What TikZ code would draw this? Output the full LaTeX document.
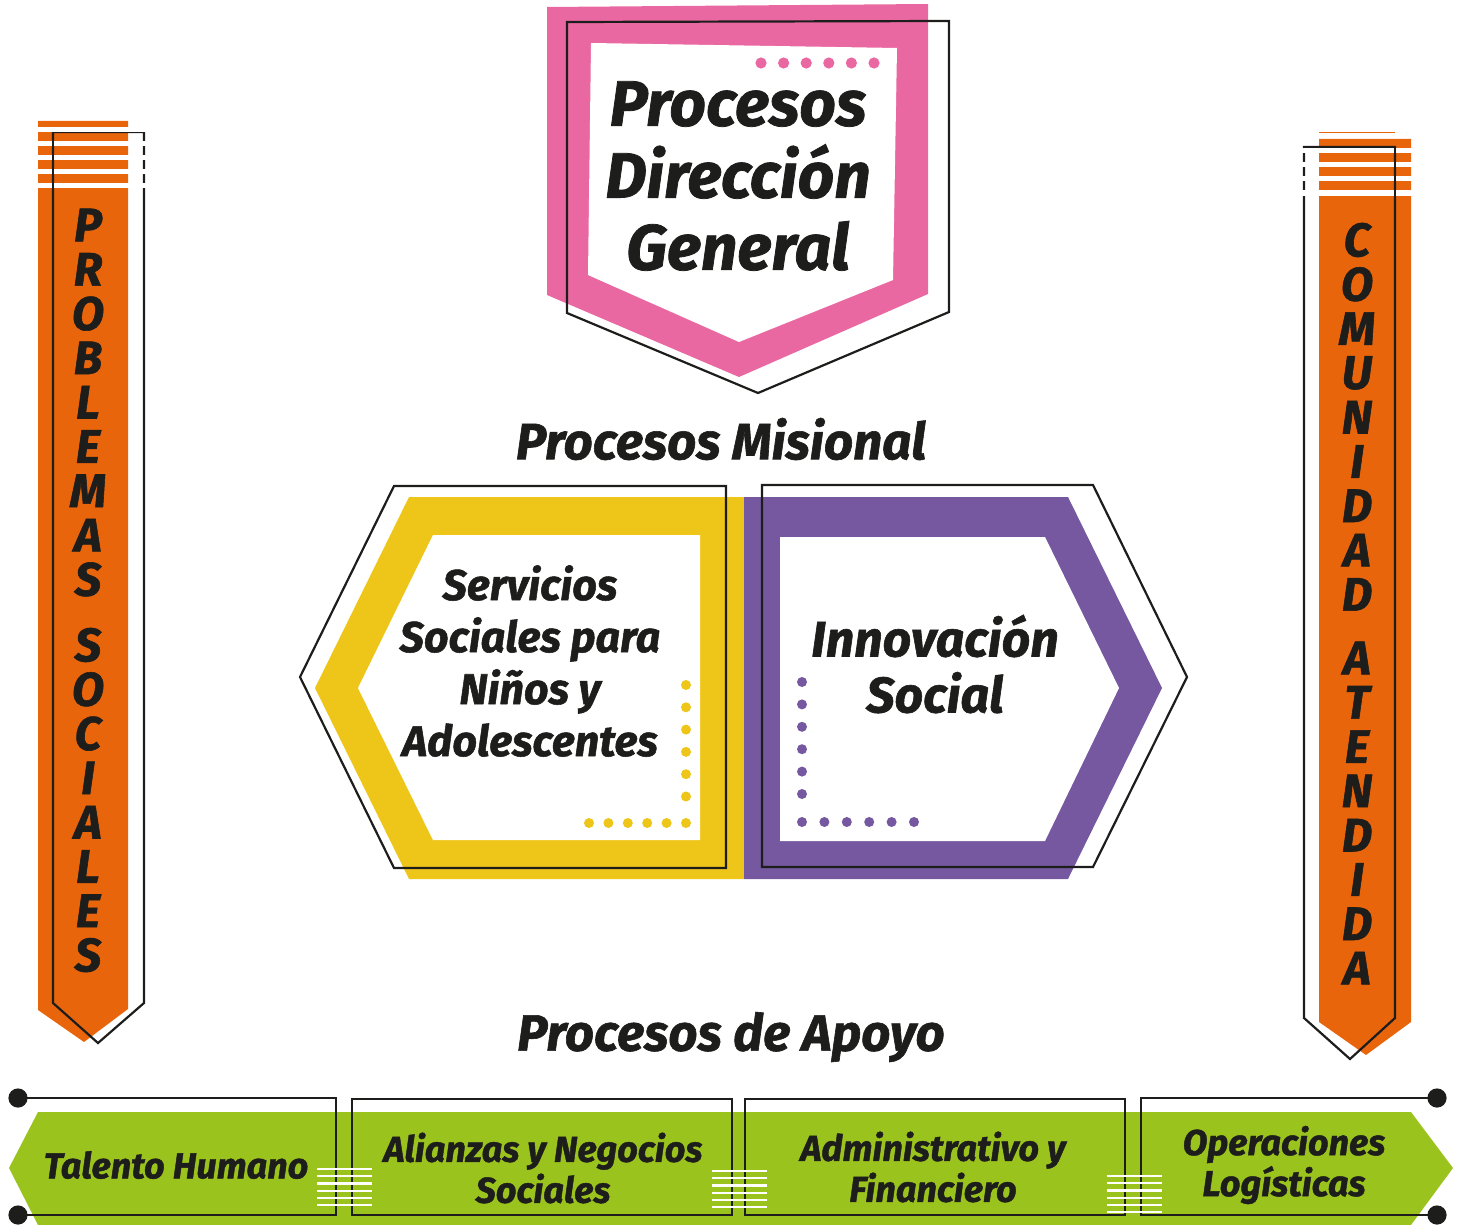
\documentclass[tikz,border=0pt]{standalone}
\usepackage{fontspec}
\setmainfont{Fira Sans}[BoldItalicFeatures={FakeBold=1.2}]
\definecolor{naranja}{HTML}{E8650C}
\definecolor{rosa}{HTML}{EA68A2}
\definecolor{amarillo}{HTML}{EEC61A}
\definecolor{morado}{HTML}{7558A0}
\definecolor{verde}{HTML}{9BC31E}
\definecolor{tinta}{HTML}{1D1D1B}
\tikzset{
  contorno/.style={draw=tinta,line width=1.1pt},
  texto/.style={text=tinta,align=center,inner sep=0pt},
  titulo/.style={texto,font=\bfseries\itshape\fontsize{32}{36}\selectfont},
  seccion/.style={texto,font=\bfseries\itshape\fontsize{25.5}{28}\selectfont},
  letra/.style={texto,font=\bfseries\itshape\fontsize{23.5}{28}\selectfont},
  proceso/.style={texto,font=\bfseries\itshape\fontsize{21.5}{26}\selectfont},
  apoyo/.style={texto,font=\bfseries\itshape\fontsize{18}{20.5}\selectfont},
  raya/.style={white,line width=1.1pt}
}
\begin{document}
\begin{tikzpicture}[x=0.5pt,y=-0.5pt]
  \useasboundingbox (0,0) rectangle (1466,1225);
  % columna izquierda
  \fill[naranja] (38,121) -- (128,121) -- (128,1009) -- (84,1042)
     -- (38,1010) -- cycle;
  \draw[contorno] (53,132) -- (144,132) -- (144,1003) -- (98,1043)
     -- (53,1003) -- cycle;
  \foreach \y in {127,141,155,169,183.5}
    \fill[white] (36,\y) rectangle (148,\y+5);
  \draw[contorno] (53,132) -- (53,195);
  \foreach \l [count=\i from 0] in {P,R,O,B,L,E,M,A,S}
    \node[letra] (izqa\i) at (88,225+44.3*\i) {\l};
  \foreach \l [count=\i from 0] in {S,O,C,I,A,L,E,S}
    \node[letra] (izqb\i) at (88,645+44.3*\i) {\l};
  % columna derecha
  \draw[naranja,line width=0.5pt] (1319,133) -- (1395,133);
  \fill[naranja] (1319,139) -- (1411,139) -- (1411,1022) -- (1366,1055)
     -- (1319,1022) -- cycle;
  \draw[contorno] (1304,147) -- (1395,147) -- (1395,1018) -- (1350,1059)
     -- (1304,1018) -- cycle;
  \foreach \y in {147.7,162,176,190.5}
    \fill[white] (1300,\y) rectangle (1413,\y+5.3);
  \draw[contorno] (1395,147) -- (1395,200);
  \foreach \l [count=\i from 0] in {C,O,M,U,N,I,D,A,D}
    \node[letra] (dera\i) at (1357,240+44.3*\i) {\l};
  \foreach \l [count=\i from 0] in {A,T,E,N,D,I,D,A}
    \node[letra] (derb\i) at (1357,658+44.3*\i) {\l};
  % direccion general
  \fill[rosa] (547,7) -- (928,4) -- (928,294) -- (739,377) -- (547,295) -- cycle;
  \fill[white] (591,43) -- (897,48) -- (893,280) -- (739,342) -- (588,275) -- cycle;
  \draw[contorno] (567,22) -- (949,21) -- (949,312) -- (758,393) -- (567,313) -- cycle;
  \foreach \k in {0,...,5}
    \fill[rosa] (761+22.6*\k,63) circle (2.8pt);
  \node[titulo] (direccion) at (738,176) {Procesos\\Dirección\\General};
  % misionales
  \node[seccion] (misional) at (721,439) {Procesos Misional};
  \fill[amarillo] (409,497) -- (744,497) -- (744,879) -- (409,879) -- (315,688) -- cycle;
  \fill[morado] (744,497) -- (1068,497) -- (1162,688) -- (1068,879) -- (744,879) -- cycle;
  \fill[white] (433,535) -- (700,535) -- (700,840) -- (433,840) -- (358,688) -- cycle;
  \fill[white] (780,537) -- (1045,537) -- (1119,688) -- (1045,841) -- (780,841) -- cycle;
  \draw[contorno] (394,486) -- (726,486) -- (726,868) -- (394,868) -- (300,677) -- cycle;
  \draw[contorno] (762,485) -- (1093,485) -- (1187,677) -- (1093,867) -- (762,867) -- cycle;
  \foreach \k in {0,...,5} {
    \fill[amarillo] (686,685+22.3*\k) circle (2.5pt);
    \fill[amarillo] (589+19.4*\k,823) circle (2.5pt);
    \fill[morado] (802,682+22.4*\k) circle (2.5pt);
    \fill[morado] (802+22.4*\k,822) circle (2.5pt);
  }
  \node[proceso] (servicios) at (530,661) {Servicios\\Sociales para\\Niños y\\Adolescentes};
  \node[proceso,font=\bfseries\itshape\fontsize{25}{28}\selectfont] (innovacion)
    at (935,664) {Innovación\\Social};
  % apoyo
  \node[seccion] (apoyo) at (731,1037) {Procesos de Apoyo};
  \fill[verde] (38,1112) -- (1411,1112) -- (1453,1168) -- (1411,1225)
     -- (38,1225) -- (9,1168) -- cycle;
  \coordinate (ia) at (18,1098);
  \coordinate (ib) at (18,1215);
  \coordinate (da) at (1437,1098);
  \coordinate (db) at (1437,1215);
  \draw[contorno] (ia) -- (336,1098) -- (336,1215) -- (ib);
  \draw[contorno] (352,1099) rectangle (732,1215);
  \draw[contorno] (745,1099) rectangle (1125,1215);
  \draw[contorno] (da) -- (1141,1098) -- (1141,1215) -- (db);
  \foreach \p in {ia,ib,da,db}
    \fill[tinta] (\p) circle (4.8pt);
  \foreach \x/\y in {317/1169,712/1171,1107/1176}
    \foreach \k in {0,...,5}
      \draw[raya] (\x,\y+7.2*\k) -- ++(55,0);
  \node[apoyo] (talento) at (176,1165) {Talento Humano};
  \node[apoyo] (alianzas) at (543,1168) {Alianzas y Negocios\\Sociales};
  \node[apoyo] (administrativo) at (933,1167) {Administrativo y\\Financiero};
  \node[apoyo] (operaciones) at (1284,1165) {Operaciones\\Logísticas};
\end{tikzpicture}
\end{document}
